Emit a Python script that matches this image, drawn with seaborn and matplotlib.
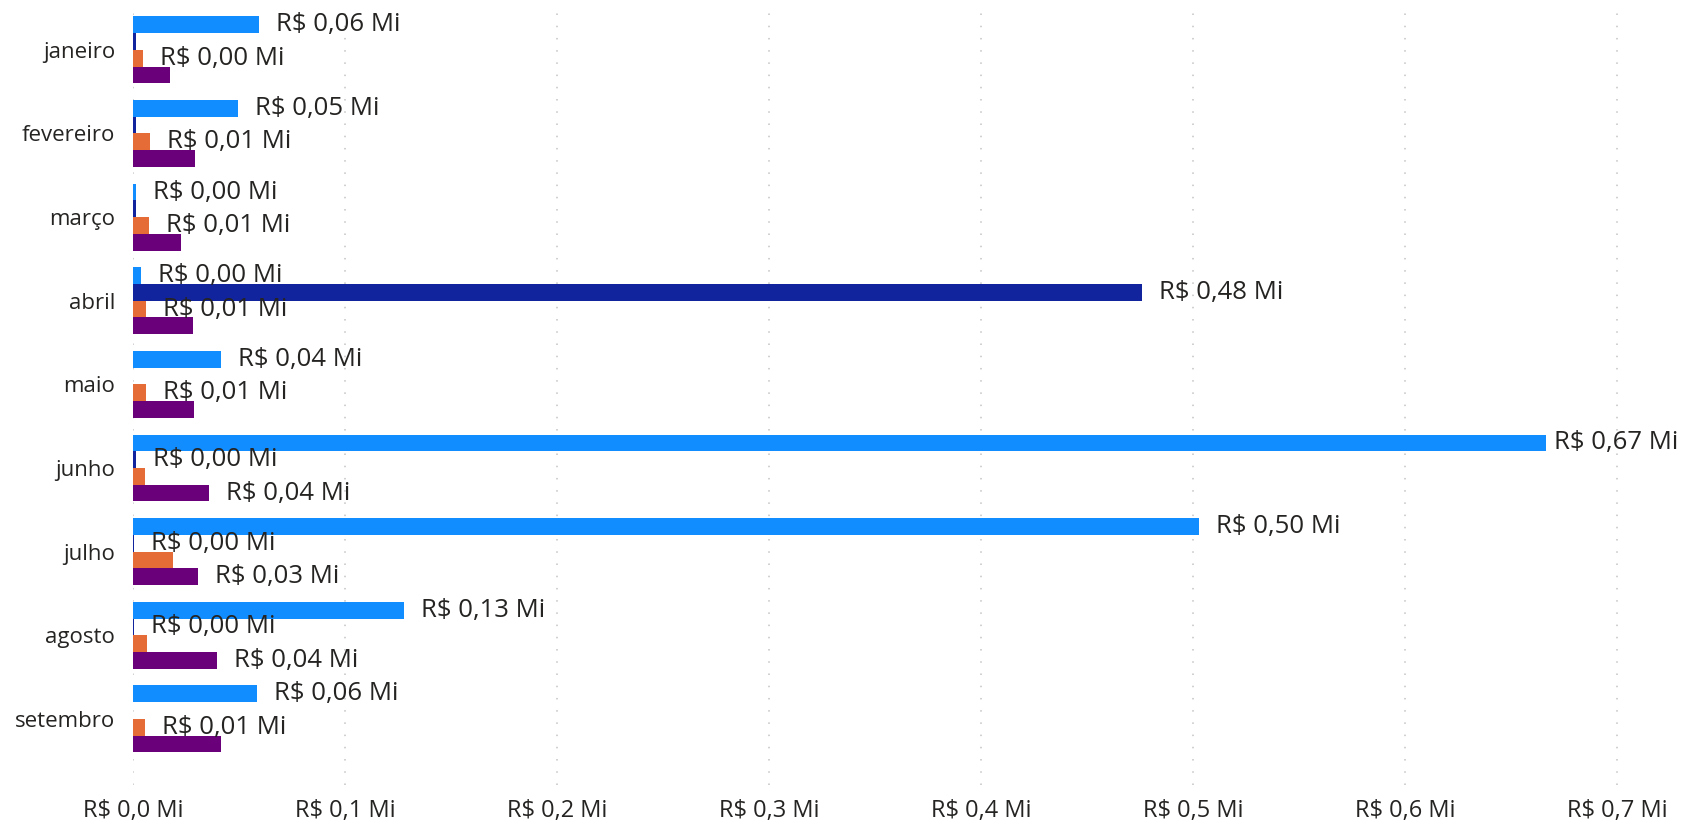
"""Barras horizontais agrupadas por mês (R$ milhões), estilo Power BI."""

import matplotlib

matplotlib.use("Agg")
import matplotlib.pyplot as plt
import numpy as np
import pandas as pd
import seaborn as sns
from matplotlib.font_manager import FontProperties
from matplotlib.ticker import FuncFormatter, MultipleLocator

# valores em R$ milhões
meses = ["janeiro", "fevereiro", "março", "abril", "maio",
         "junho", "julho", "agosto", "setembro"]
series = ["Série 1", "Série 2", "Série 3", "Série 4"]
serie_1 = [0.0594, 0.0497, 0.0014, 0.0038, 0.0415, 0.6665, 0.5030, 0.1280, 0.0585]
serie_2 = [0.0013, 0.0013, 0.0013, 0.4758, np.nan, 0.0013, 0.0003, 0.0003, np.nan]
serie_3 = [0.0047, 0.0080, 0.0075, 0.0061, 0.0061, 0.0057, 0.0187, 0.0066, 0.0057]
serie_4 = [0.0175, 0.0292, 0.0226, 0.0282, 0.0286, 0.0360, 0.0307, 0.0396, 0.0415]
cores = ["#118DFF", "#12239E", "#E66C37", "#6B007B"]

df = pd.DataFrame({"mes": meses, series[0]: serie_1, series[1]: serie_2,
                   series[2]: serie_3, series[3]: serie_4})
longo = df.melt(id_vars="mes", var_name="serie", value_name="valor").dropna()

FONTE = ["Open Sans", "DejaVu Sans"]
TAM_ROTULO = 18.5
COR_TEXTO = "#252423"


def brl(v, casas):
    return f"R$ {v:.{casas}f} Mi".replace(".", ",")


sns.set_theme(style="white")
plt.rcParams["font.family"] = FONTE
plt.rcParams["text.color"] = COR_TEXTO

fig = plt.figure(figsize=(16.82, 8.22), dpi=100)
ax = fig.add_axes([133 / 1682, 1 - 785 / 822, 0.72 * 2120 / 1682, 777 / 822])

sns.barplot(data=longo, x="valor", y="mes", hue="serie", order=meses,
            hue_order=series, palette=cores, orient="h", width=0.8,
            saturation=1, legend=False, linewidth=0, edgecolor="none", ax=ax)

ax.set_xlim(0, 0.72)
ax.set_ylim(8.79, -0.5)
ax.xaxis.set_major_locator(MultipleLocator(0.1))
ax.xaxis.set_major_formatter(FuncFormatter(lambda v, _: brl(v, 1)))
ax.grid(axis="x", color="#c4c4c4", linestyle=(0, (1, 7)), linewidth=1.1)
ax.set_axisbelow(True)
for s in ax.spines.values():
    s.set_visible(False)
ax.tick_params(axis="x", length=0, pad=10, labelsize=17, labelcolor=COR_TEXTO)
ax.tick_params(axis="y", length=0, pad=13, labelsize=16, labelcolor=COR_TEXTO)
ax.set_xlabel("")
ax.set_ylabel("")

# barras por (mês, série), a partir dos containers do seaborn
barras = {}
for j, cont in enumerate(ax.containers):
    for p in cont.patches:
        w = p.get_width()
        if not np.isfinite(w):
            continue
        yc = p.get_y() + p.get_height() / 2
        barras[(int(round(yc)), j)] = (w, yc)

# rótulos de dados: como no Power BI, os que se sobrepõem são omitidos
# e os que passariam da borda direita são puxados para dentro
fig.canvas.draw()
renderer = fig.canvas.get_renderer()
fp = FontProperties(family=FONTE, size=TAM_ROTULO)
larg_fig = fig.get_figwidth() * fig.dpi
desloc_px = 17
alt_px = 26
folga = 3
colocados = []
for i in range(len(meses)):
    for j in range(len(series)):
        if (i, j) not in barras:
            continue
        w, yc = barras[(i, j)]
        texto = brl(w, 2)
        larg, _, _ = renderer.get_text_width_height_descent(texto, fp, ismath=False)
        x0, y0 = ax.transData.transform((w, yc))
        desloc = min(desloc_px, larg_fig - 4 - larg - x0)
        caixa = (x0 + desloc - folga, y0 - alt_px / 2,
                 x0 + desloc + larg + folga, y0 + alt_px / 2)
        sobrepoe = any(caixa[0] < c[2] and c[0] < caixa[2] and
                       caixa[1] < c[3] and c[1] < caixa[3] for c in colocados)
        if sobrepoe:
            continue
        colocados.append(caixa)
        ax.annotate(texto, xy=(w, yc), xytext=(desloc * 72 / fig.dpi, 0),
                    textcoords="offset points", va="center", ha="left",
                    fontproperties=fp, color=COR_TEXTO, annotation_clip=False)

fig.savefig("out.png", dpi=100)
